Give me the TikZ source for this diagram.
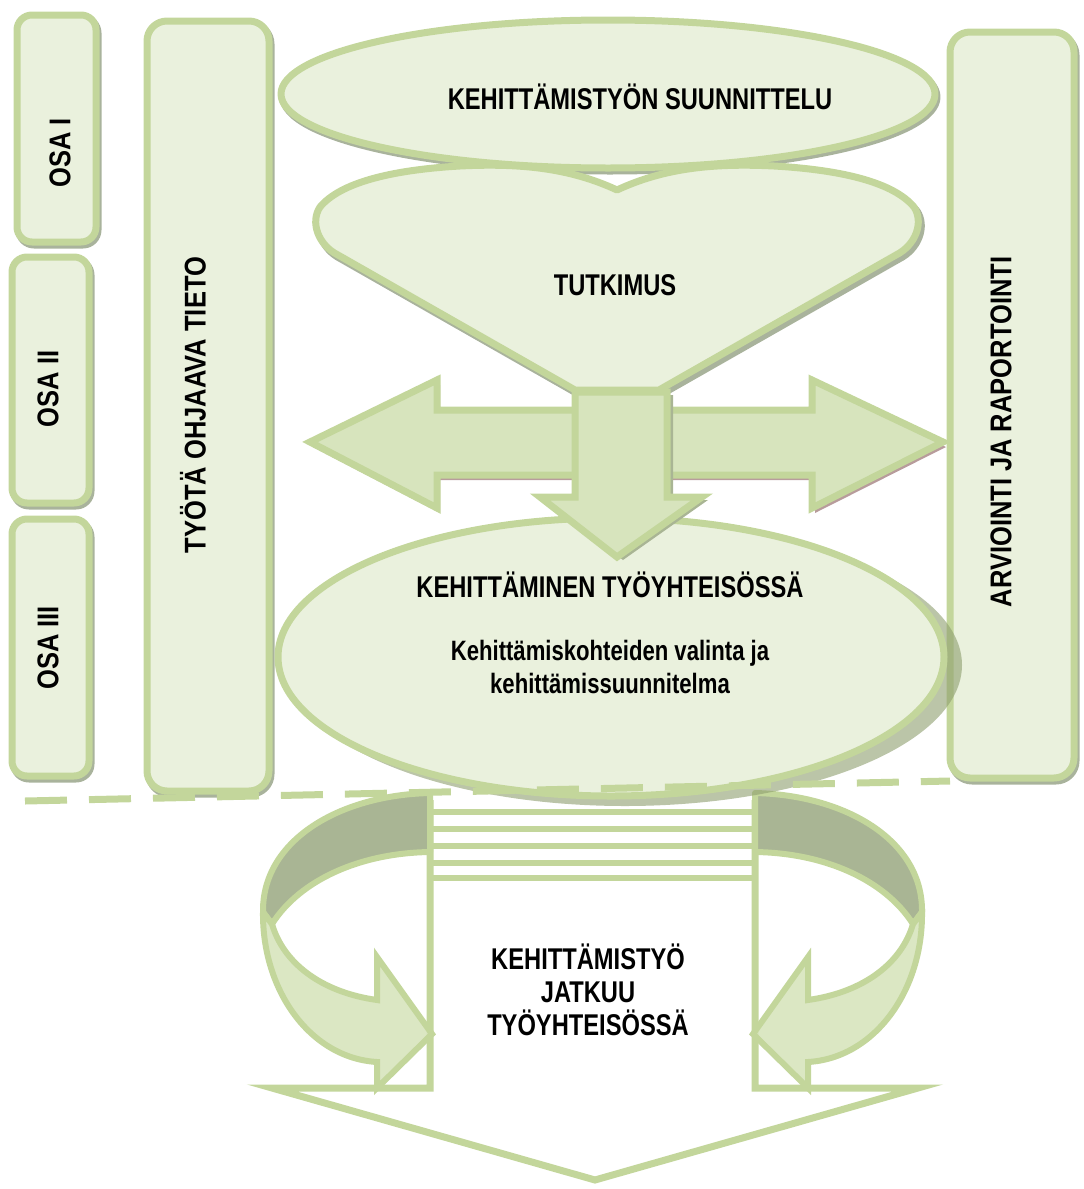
\documentclass[tikz,border=0pt]{standalone}
\usepackage{fontspec}
\newfontfamily\nar{Liberation Sans}[FakeStretch=0.79]
\newfontfamily\narr{Liberation Sans}[FakeStretch=0.85]
\definecolor{lightfill}{HTML}{EAF1DD}
\definecolor{bordc}{HTML}{C3D69B}
\definecolor{midfill}{HTML}{D7E4BD}
\definecolor{darkband}{HTML}{A9B594}
\definecolor{shadowc}{HTML}{A9B39C}
\definecolor{pinkshadow}{HTML}{B89C9C}
\definecolor{deepshadow}{HTML}{8E9E6E}
\begin{document}
\begin{tikzpicture}[x=1pt,y=-1pt,
  gshape/.style={fill=lightfill, draw=bordc, line width=7pt, line join=round},
  marrow/.style={fill=midfill, draw=bordc, line width=7pt, line join=miter},
  shad/.style={fill=shadowc, draw=shadowc, line width=7pt, line join=round},
  lbl/.style={font=\nar\bfseries\fontsize{30}{33}\selectfont, align=center, text=black, inner sep=0pt},
  rlbl/.style={font=\narr\bfseries\fontsize{30}{33}\selectfont, align=center, text=black, inner sep=0pt, rotate=90},
  sublbl/.style={font=\nar\bfseries\fontsize{28}{33}\selectfont, align=center, text=black, inner sep=0pt},
  dashln/.style={draw=bordc, line width=7pt, dash pattern=on 42pt off 22pt}]
\useasboundingbox (0,0) rectangle (1084,1189);

% ---- side boxes ----
\draw[shad, rounded corners=15pt] (19,18) rectangle (98,245);
\draw[gshape, rounded corners=15pt] (17,15) rectangle (96,242);
\draw[shad, rounded corners=15pt] (14,260) rectangle (91,506);
\draw[gshape, rounded corners=15pt] (12,257) rectangle (89,503);
\draw[shad, rounded corners=15pt] (14,522) rectangle (91,779);
\draw[gshape, rounded corners=15pt] (12,519) rectangle (89,776);
\draw[shad, rounded corners=20pt] (149,24) rectangle (271,794);
\draw[gshape, rounded corners=20pt] (147,21) rectangle (269,791);
\draw[shad, rounded corners=20pt] (952,35) rectangle (1076,781);
\draw[gshape, rounded corners=20pt] (950,32) rectangle (1074,778);

\node[rlbl] (osa1) at (60,153) {OSA I};
\node[rlbl] (osa2) at (48,389) {OSA II};
\node[rlbl] (osa3) at (48,648) {OSA III};
\node[rlbl] (tieto) at (193,405) {TYÖTÄ OHJAAVA TIETO};
\node[rlbl] (arv) at (1001,432) {ARVIOINTI JA RAPORTOINTI};

% ---- bottom structure ----
\draw[fill=white, draw=bordc, line width=7pt, line join=miter]
  (430,800) -- (430,1088) -- (272,1088) -- (595,1180) -- (918,1088) -- (755,1088) -- (755,800);
\foreach \yy in {812,829,846,863,878}
  \draw[bordc, line width=6pt] (430,\yy) -- (755,\yy);
% left ring arrow
\draw[fill=darkband, draw=bordc, line width=6pt, line join=round]
  (430,793) .. controls (340,795) and (262,840) .. (263,912) -- (272,924)
  .. controls (300,880) and (360,853) .. (430,852) -- cycle;
\draw[fill=midfill, draw=bordc, line width=6pt, line join=miter, fill opacity=0.9]
  (263,912) .. controls (262,990) and (310,1058) .. (377,1062) -- (377,1088)
  -- (432,1034) -- (377,957) -- (377,1000)
  .. controls (320,992) and (283,962) .. (272,924) -- cycle;
% right ring arrow
\draw[fill=darkband, draw=bordc, line width=6pt, line join=round]
  (755,793) .. controls (845,795) and (923,840) .. (922,912) -- (913,924)
  .. controls (885,880) and (825,853) .. (755,852) -- cycle;
\draw[fill=midfill, draw=bordc, line width=6pt, line join=miter, fill opacity=0.9]
  (922,912) .. controls (923,990) and (875,1058) .. (808,1062) -- (808,1088)
  -- (753,1034) -- (808,957) -- (808,1000)
  .. controls (865,992) and (902,962) .. (913,924) -- cycle;
\node[lbl] (jatkuu) at (588,990) {KEHITTÄMISTYÖ\\JATKUU\\TYÖYHTEISÖSSÄ};

% ---- top ellipse ----
\draw[shad] (610,97) ellipse [x radius=327, y radius=74];
\draw[gshape] (608,94) ellipse [x radius=327, y radius=74];
\node[lbl] (suunn) at (640,97) {KEHITTÄMISTYÖN SUUNNITTELU};

% ---- heart ----
\begin{scope}[shift={(3,4)}]
\draw[shad]
  (617,190) .. controls (570,168) and (520,163) .. (460,166)
  .. controls (390,170) and (340,183) .. (320,207)
  .. controls (310,222) and (318,245) .. (338,255) -- (575,390) -- (659,390)
  -- (896,255) .. controls (916,245) and (924,222) .. (914,207)
  .. controls (894,183) and (844,170) .. (774,166)
  .. controls (714,163) and (664,168) .. (617,190) -- cycle;
\end{scope}
\draw[gshape]
  (617,190) .. controls (570,168) and (520,163) .. (460,166)
  .. controls (390,170) and (340,183) .. (320,207)
  .. controls (310,222) and (318,245) .. (338,255) -- (575,390) -- (659,390)
  -- (896,255) .. controls (916,245) and (924,222) .. (914,207)
  .. controls (894,183) and (844,170) .. (774,166)
  .. controls (714,163) and (664,168) .. (617,190) -- cycle;
\node[lbl] (tutk) at (615,285) {TUTKIMUS};

% ---- lower ellipse ----
\fill[deepshadow, opacity=0.6] (625,665) ellipse [x radius=337, y radius=141];
\draw[gshape] (611,657) ellipse [x radius=333, y radius=139];
\node[lbl] (kehtyo) at (610,585) {KEHITTÄMINEN TYÖYHTEISÖSSÄ};
\node[sublbl] (valinta) at (610,667) {Kehittämiskohteiden valinta ja\\kehittämissuunnitelma};

% ---- horizontal double arrow ----
\begin{scope}[shift={(3,5)}]
\fill[pinkshadow]
  (310,442) -- (437,380) -- (437,410) -- (812,410) -- (812,380) -- (943,442)
  -- (812,508) -- (812,475) -- (437,475) -- (437,508) -- cycle;
\end{scope}
\draw[marrow]
  (310,442) -- (437,380) -- (437,410) -- (812,410) -- (812,380) -- (943,442)
  -- (812,508) -- (812,475) -- (437,475) -- (437,508) -- cycle;

% ---- down arrow ----
\begin{scope}[shift={(6,3)}]
\fill[darkband]
  (575,392) -- (667,392) -- (667,497) -- (702,497) -- (617,557) -- (540,497) -- (575,497) -- cycle;
\end{scope}
\draw[marrow]
  (575,392) -- (667,392) -- (667,497) -- (702,497) -- (617,557) -- (540,497) -- (575,497) -- cycle;

% ---- dashed separator ----
\coordinate (dL) at (25,801);
\coordinate (dR) at (950,781);
\draw[dashln] (dL) -- (dR);
\end{tikzpicture}
\end{document}
